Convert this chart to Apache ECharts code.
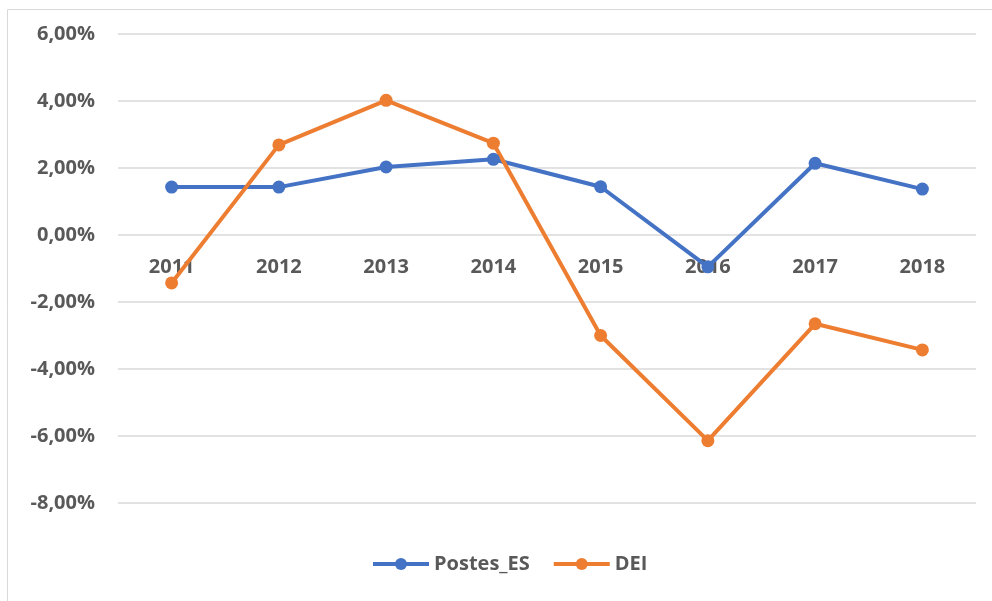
<!DOCTYPE html>
<html>
<head>
<meta charset="utf-8">
<script src="https://cdn.jsdelivr.net/npm/echarts@6/dist/echarts.min.js"></script>
<style>
  html, body { margin: 0; padding: 0; background: #fff; }
  #chart { width: 992px; height: 601px; }
</style>
</head>
<body>
<div id="chart"></div>
<script>
// values in percent
var years = ['2011', '2012', '2013', '2014', '2015', '2016', '2017', '2018']
var postesES = [1.43, 1.43, 2.03, 2.26, 1.44, -0.95, 2.14, 1.37]
var dei = [-1.43, 2.69, 4.02, 2.74, -3.00, -6.14, -2.65, -3.43]
var yTicks = [-8, -6, -4, -2, 0, 2, 4, 6]

var textColor = '#595959'
var fontFamily = '"Open Sans", "Liberation Sans", sans-serif'

var gridTop = 34
var gridBottom = 98
var plotH = 601 - gridTop - gridBottom
// move the category labels up to the 0 line
var zeroOffset = -plotH * (0 - yTicks[0]) / (yTicks[yTicks.length - 1] - yTicks[0])

var chart = echarts.init(document.getElementById('chart'))
chart.setOption({
  animation: false,
  graphic: [
    {
      type: 'rect',
      shape: { x: 7.5, y: 9.5, width: 1000, height: 700 },
      style: { fill: 'none', stroke: '#d9d9d9', lineWidth: 1 },
      silent: true
    }
  ],
  grid: { left: 118, right: 16, top: gridTop, bottom: gridBottom },
  legend: {
    bottom: 22,
    left: 366,
    itemWidth: 56,
    itemHeight: 15,
    itemGap: 22,
    lineStyle: { width: 4 },
    textStyle: { color: textColor, fontSize: 20, fontWeight: 'bold', fontFamily: fontFamily },
    data: ['Postes_ES', 'DEI']
  },
  xAxis: {
    type: 'category',
    data: years,
    boundaryGap: true,
    offset: zeroOffset,
    axisLine: { show: false },
    axisTick: { show: false },
    axisLabel: { color: textColor, fontSize: 20, fontWeight: 'bold', fontFamily: fontFamily, margin: 22 }
  },
  yAxis: {
    type: 'value',
    min: yTicks[0],
    max: yTicks[yTicks.length - 1],
    interval: 2,
    axisLine: { show: false },
    axisTick: { show: false },
    splitLine: { lineStyle: { color: '#d9d9d9', width: 1.5 } },
    axisLabel: {
      color: textColor,
      fontSize: 20,
      fontWeight: 'bold',
      fontFamily: fontFamily,
      margin: 23,
      formatter: function (v) {
        return v.toFixed(2).replace('.', ',') + '%'
      }
    }
  },
  series: [
    {
      name: 'Postes_ES',
      type: 'line',
      data: postesES,
      symbol: 'circle',
      symbolSize: 13,
      lineStyle: { width: 4, color: '#4472c4' },
      itemStyle: { color: '#4472c4' }
    },
    {
      name: 'DEI',
      type: 'line',
      data: dei,
      symbol: 'circle',
      symbolSize: 13,
      lineStyle: { width: 4, color: '#ed7d31' },
      itemStyle: { color: '#ed7d31' }
    }
  ]
})
</script>
</body>
</html>
